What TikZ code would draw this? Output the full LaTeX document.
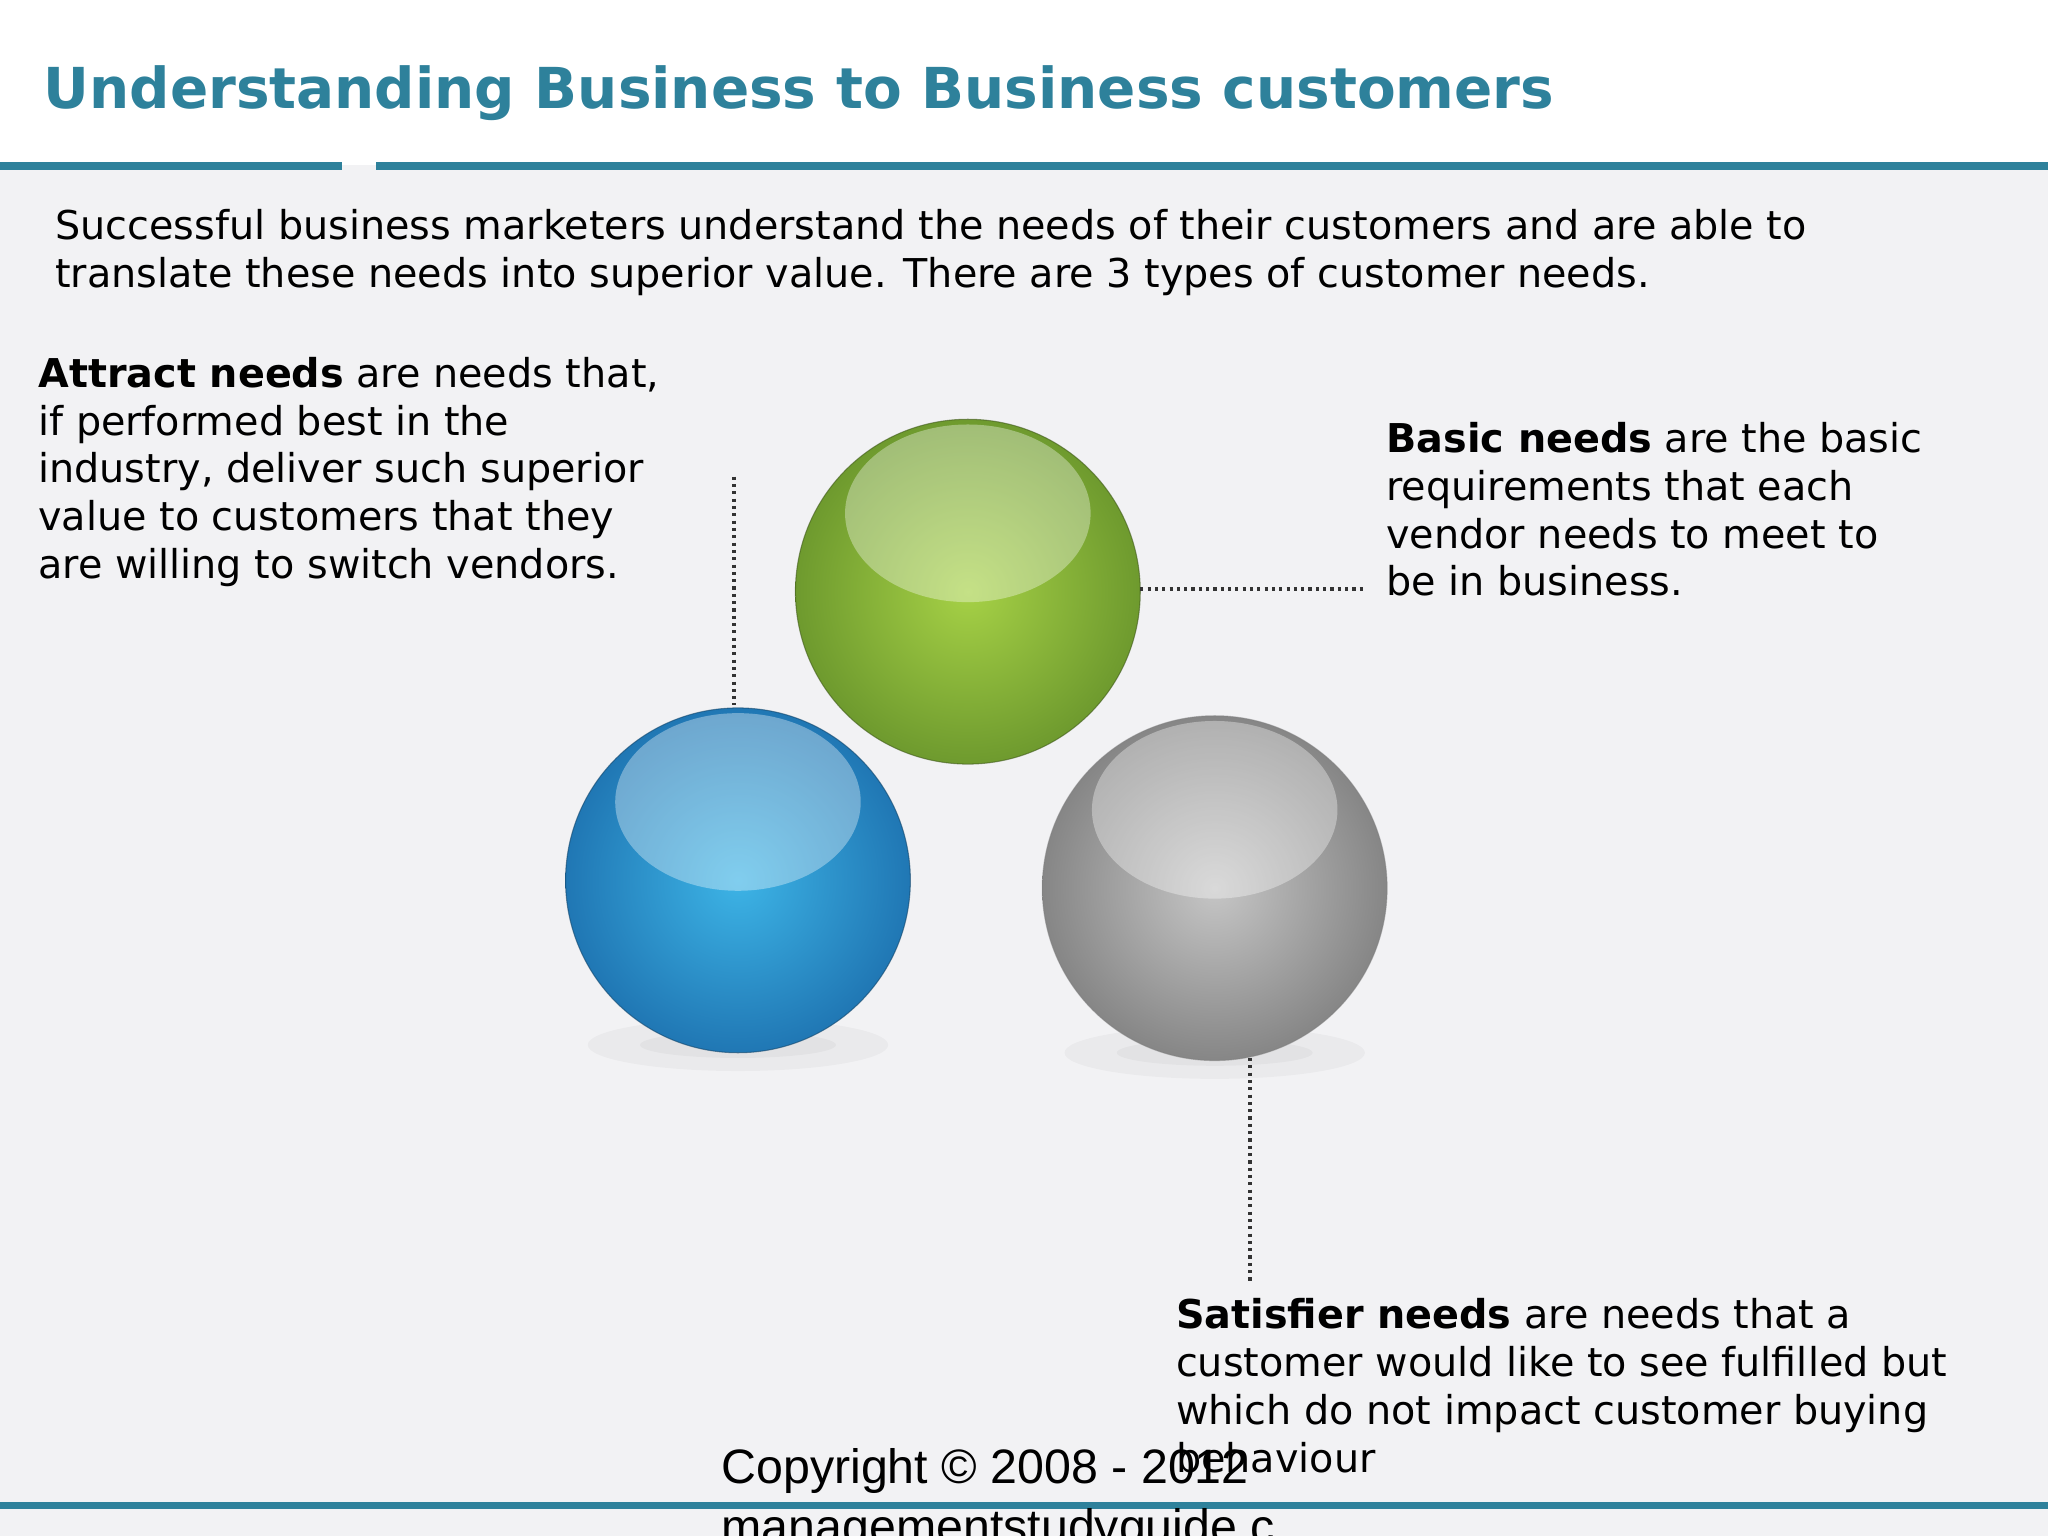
\documentclass[tikz,border=0pt]{standalone}
\usepackage{fontspec}
\setmainfont{DejaVu Sans}
\newfontfamily\arialf{Liberation Sans}
\definecolor{teal}{HTML}{2E819B}
\definecolor{bg}{HTML}{F2F2F4}
\definecolor{gin}{HTML}{A6D146}
\definecolor{gout}{HTML}{6E9A2E}
\definecolor{bin}{HTML}{3DB4E6}
\definecolor{bout}{HTML}{2077B4}
\tikzset{body/.style={anchor=north west,align=left,inner sep=0pt,font=\fontsize{15.2}{18.3}\selectfont},
 dotl/.style={line width=1.3pt,dash pattern=on 1.2pt off 1.6pt,black!80},
 hl/.style={fill=white,fill opacity=0.35}}
\begin{document}
\begin{tikzpicture}[x=0.5pt,y=-0.5pt]
\useasboundingbox (0,0) rectangle (1568,1176);
\fill[bg] (0,0) rectangle (1568,1176);
\fill[white] (0,0) rectangle (1568,126);
\node[anchor=base west,inner sep=0pt,text=teal,font=\fontsize{21.6}{24}\selectfont\bfseries] (title) at (33,83) {Understanding Business to Business customers};
\fill[teal] (0,124) rectangle (262,130);
\fill[teal] (288,124) rectangle (1568,130);
\fill[teal] (0,1150) rectangle (1568,1155);
\node[body] (intro) at (42,160) {Successful business marketers understand the needs of their customers and are able to\\translate these needs into superior value. There are 3 types of customer needs.};
\node[body] (attract) at (29,273) {\textbf{Attract needs} are needs that,\\if performed best in the\\industry, deliver such superior\\value to customers that they\\are willing to switch vendors.};
\node[body] (basic) at (1061,323) {\textbf{Basic needs} are the basic\\requirements that each\\vendor needs to meet to\\be in business.};
\node[body] (satis) at (900,994) {\textbf{Satisfier needs} are needs that a\\customer would like to see fulfilled but\\which do not impact customer buying\\behaviour};
% shadows
\foreach \x/\y in {565/800,930/806}{\fill[black,opacity=0.03] (\x,\y) ellipse (115 and 20);\fill[black,opacity=0.03] (\x,\y) ellipse (75 and 10);}
% spheres
\shade[inner color=gin, outer color=gout] (741,453) circle (132);
\draw[gout!60!black,opacity=0.6] (741,453) circle (132);
\fill[hl] (741,393) ellipse (94 and 68);
\shade[inner color=bin, outer color=bout] (565,674) circle (132);
\draw[bout!60!black,opacity=0.6] (565,674) circle (132);
\fill[hl] (565,614) ellipse (94 and 68);
\shade[inner color=gray!45, outer color=gray!95] (930,680) circle (132);
\draw[black!50,opacity=0.5] (930,680) circle (132);
\fill[hl] (930,620) ellipse (94 and 68);
\coordinate (a1) at (562,365); \coordinate (a2) at (562,540);
\coordinate (b1) at (873,451); \coordinate (b2) at (1045,451);
\coordinate (c1) at (957,810); \coordinate (c2) at (957,982);
\draw[dotl] (a1)--(a2); \draw[dotl] (b1)--(b2); \draw[dotl] (c1)--(c2);
\node[anchor=base west,inner sep=0pt,font=\arialf\fontsize{18.5}{29}\selectfont] (copy) at (552,1136) {Copyright © 2008 - 2012};
\node[anchor=base west,inner sep=0pt,font=\arialf\fontsize{18.5}{29}\selectfont] (copy2) at (552,1182) {managementstudyguide.c};
\end{tikzpicture}
\end{document}
